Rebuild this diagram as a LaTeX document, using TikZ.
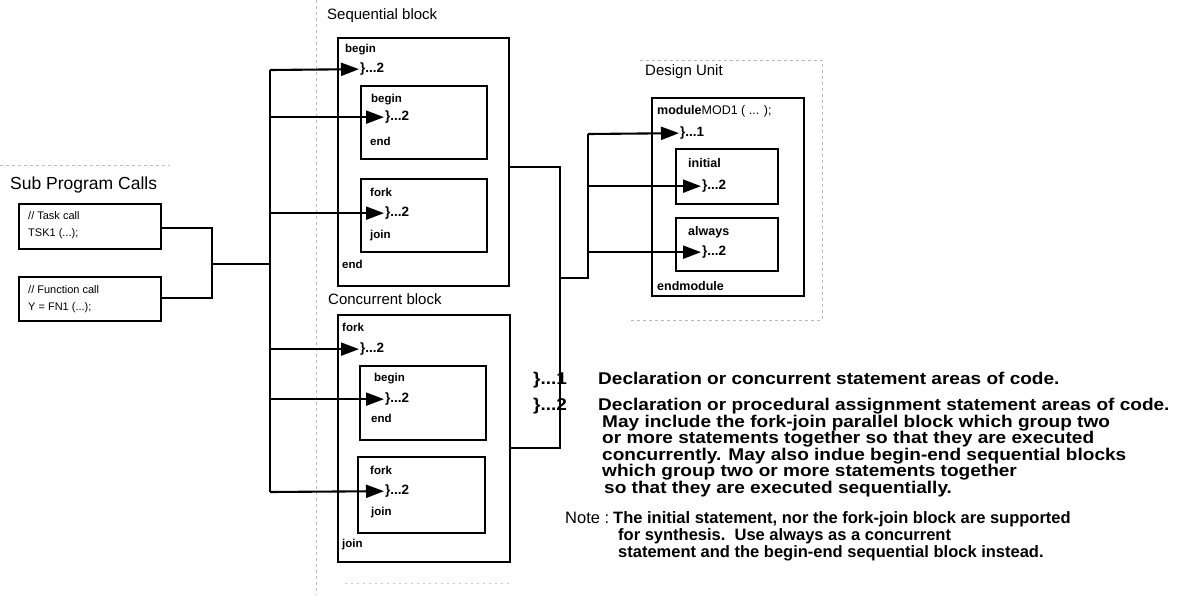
\documentclass[tikz,border=0pt]{standalone}
\usepackage{fontspec}
\setmainfont{Liberation Sans}
\newfontfamily\widefont[FakeStretch=1.12]{Liberation Sans}
\usetikzlibrary{arrows.meta}
\begin{document}
\begin{tikzpicture}[x=1pt,y=-1pt,
  box/.style={draw,line width=1.9pt,inner sep=0pt,anchor=north west},
  kw/.style={anchor=mid west,inner sep=0pt,font=\bfseries\fontsize{11.5}{13}\selectfont},
  dkw/.style={anchor=mid west,inner sep=0pt,font=\bfseries\fontsize{12.5}{14}\selectfont},
  rf/.style={anchor=mid west,inner sep=0pt,font=\bfseries\fontsize{13.5}{15}\selectfont},
  ttl/.style={anchor=mid west,inner sep=0pt,font=\fontsize{15}{18}\selectfont},
  call/.style={anchor=mid west,inner sep=0pt,font=\fontsize{11}{12}\selectfont},
  wire/.style={line width=2.1pt},
  bus/.style={line width=2.8pt},
  arr/.style={line width=2.1pt,-{Triangle[length=18pt,width=13pt]},shorten >=1pt},
  leg/.style={anchor=mid west,inner sep=0pt,font=\widefont\bfseries\fontsize{17}{19}\selectfont},
  note/.style={anchor=mid west,inner sep=0pt,font=\bfseries\fontsize{16.5}{19}\selectfont},
  faint/.style={gray!55,line width=0.6pt,dash pattern=on 3pt off 3pt}]
\useasboundingbox (0,0) rectangle (1200,595);

% faint scan frame lines
\draw[faint] (0,165) -- (170,165);
\draw[faint] (316,0) -- (316,595);
\draw[faint] (640,60) -- (822,60) -- (822,320) -- (630,320);
\draw[faint,gray!40,dash pattern=on 2pt off 4pt] (345,583) -- (510,583);

% ---------- Sub program calls ----------
\node[ttl,font=\fontsize{17.5}{20}\selectfont] (spc) at (10,187) {Sub Program Calls};
\node[box,minimum width=142pt,minimum height=45pt] (task) at (18,203) {};
\node[call] (t1) at (28,217) {// Task call};
\node[call] (t2) at (28,234) {TSK1 (...);};
\node[box,minimum width=142pt,minimum height=44pt] (func) at (18,276) {};
\node[call] (f1) at (28,291) {// Function call};
\node[call] (f2) at (28,308) {Y = FN1 (...);};

\coordinate (jt) at (212,228);
\coordinate (jf) at (212,298);
\coordinate (jm) at (212,264);
\coordinate (bm) at (270,264);
\coordinate (btop) at (270,70);
\coordinate (bbot) at (270,492);

\draw[wire] (task.east |- jt) -- (jt) -- (jf) -- (func.east |- jf);
\draw[wire] (jm) -- (bm);
\draw[bus] (btop) -- (bbot);

% ---------- Sequential block ----------
\node[ttl] (seqt) at (327,17) {Sequential block};
\node[box,minimum width=171pt,minimum height=248pt] (seq) at (337,37) {};
\node[kw] (sb) at (345,50) {begin};
\node[rf] (s2) at (360,70) {\}...2};
\node[box,minimum width=126pt,minimum height=73pt] (sib) at (360,85) {};
\node[kw] (sib1) at (371,100) {begin};
\node[rf] (sib2) at (385,118) {\}...2};
\node[kw] (sib3) at (370,143) {end};
\node[box,minimum width=126pt,minimum height=73pt] (sif) at (360,178) {};
\node[kw] (sif1) at (370,194) {fork};
\node[rf] (sif2) at (385,214) {\}...2};
\node[kw] (sif3) at (370,236) {join};
\node[kw] (se) at (342,266) {end};

% ---------- Concurrent block ----------
\node[ttl] (cont) at (328,302) {Concurrent block};
\node[box,minimum width=172pt,minimum height=247pt] (con) at (337,314) {};
\node[kw] (cf) at (342,329) {fork};
\node[rf] (c2) at (360,350) {\}...2};
\node[box,minimum width=126pt,minimum height=74pt] (cib) at (359,365) {};
\node[kw] (cib1) at (374,379) {begin};
\node[rf] (cib2) at (385,400) {\}...2};
\node[kw] (cib3) at (371,420) {end};
\node[box,minimum width=127pt,minimum height=76pt] (cif) at (357,456) {};
\node[kw] (cif1) at (370,472) {fork};
\node[rf] (cif2) at (385,492) {\}...2};
\node[kw] (cif3) at (371,513) {join};
\node[kw] (cj) at (342,545) {join};

% arrows from bus
\draw[arr] (btop) -- (s2.west);
\draw[arr] (btop |- sib2) -- (sib2.west);
\draw[arr] (btop |- sif2) -- (sif2.west);
\draw[arr] (btop |- c2) -- (c2.west);
\draw[arr] (btop |- cib2) -- (cib2.west);
\draw[arr] (bbot) -- (cif2.west);

% ---------- Design unit ----------
\node[ttl] (dut) at (645,73) {Design Unit};
\node[box,minimum width=152pt,minimum height=198pt] (du) at (651,97) {};
\node[dkw] (m1) at (657,112) {module\mdseries MOD1 ( ... );};
\node[rf] (d1) at (680,134) {\}...1};
\node[box,minimum width=102pt,minimum height=55pt] (ini) at (675,148) {};
\node[dkw] (ini1) at (688,165) {initial};
\node[rf] (ini2) at (702,187) {\}...2};
\node[box,minimum width=102pt,minimum height=53pt] (alw) at (675,217) {};
\node[dkw] (alw1) at (688,233) {always};
\node[rf] (alw2) at (702,253) {\}...2};
\node[dkw] (em) at (657,288) {endmodule};

% connections to design unit
\coordinate (ja) at (560,167);
\coordinate (jb) at (560,448);
\coordinate (jc) at (560,278);
\coordinate (jd) at (588,278);
\coordinate (je) at (588,134);
\draw[wire] (seq.east |- ja) -- (ja) -- (jb) -- (con.east |- jb);
\draw[wire] (jc) -- (jd) -- (je);
\draw[arr] (je) -- (d1.west);
\draw[arr] (je |- ini2) -- (ini2.west);
\draw[arr] (je |- alw2) -- (alw2.west);

% ---------- Legend ----------
\node[leg] (k1) at (533,382) {\}...1};
\node[leg] (k1t) at (598,382) {Declaration or concurrent statement areas of code.};
\node[leg] (k2) at (533,408) {\}...2};
\node[leg] (k2a) at (598,408) {Declaration or procedural assignment statement areas of code.};
\node[leg] (k2b) at (602,424.5) {May include the fork-join parallel block which group two};
\node[leg] (k2c) at (602,441) {or more statements together so that they are executed};
\node[leg] (k2d) at (602,457.5) {concurrently. May also indue begin-end sequential blocks};
\node[leg] (k2e) at (602,474) {which group two or more statements together};
\node[leg] (k2f) at (604,490.5) {so that they are executed sequentially.};
\node[note,font=\fontsize{16.5}{19}\selectfont] (n0) at (565,521) {Note :};
\node[note] (n1) at (613,521) {The initial statement, nor the fork-join block are supported};
\node[note] (n2) at (618,538) {for synthesis.\ \ Use always as a concurrent};
\node[note] (n3) at (618,555) {statement and the begin-end sequential block instead.};
\end{tikzpicture}
\end{document}
